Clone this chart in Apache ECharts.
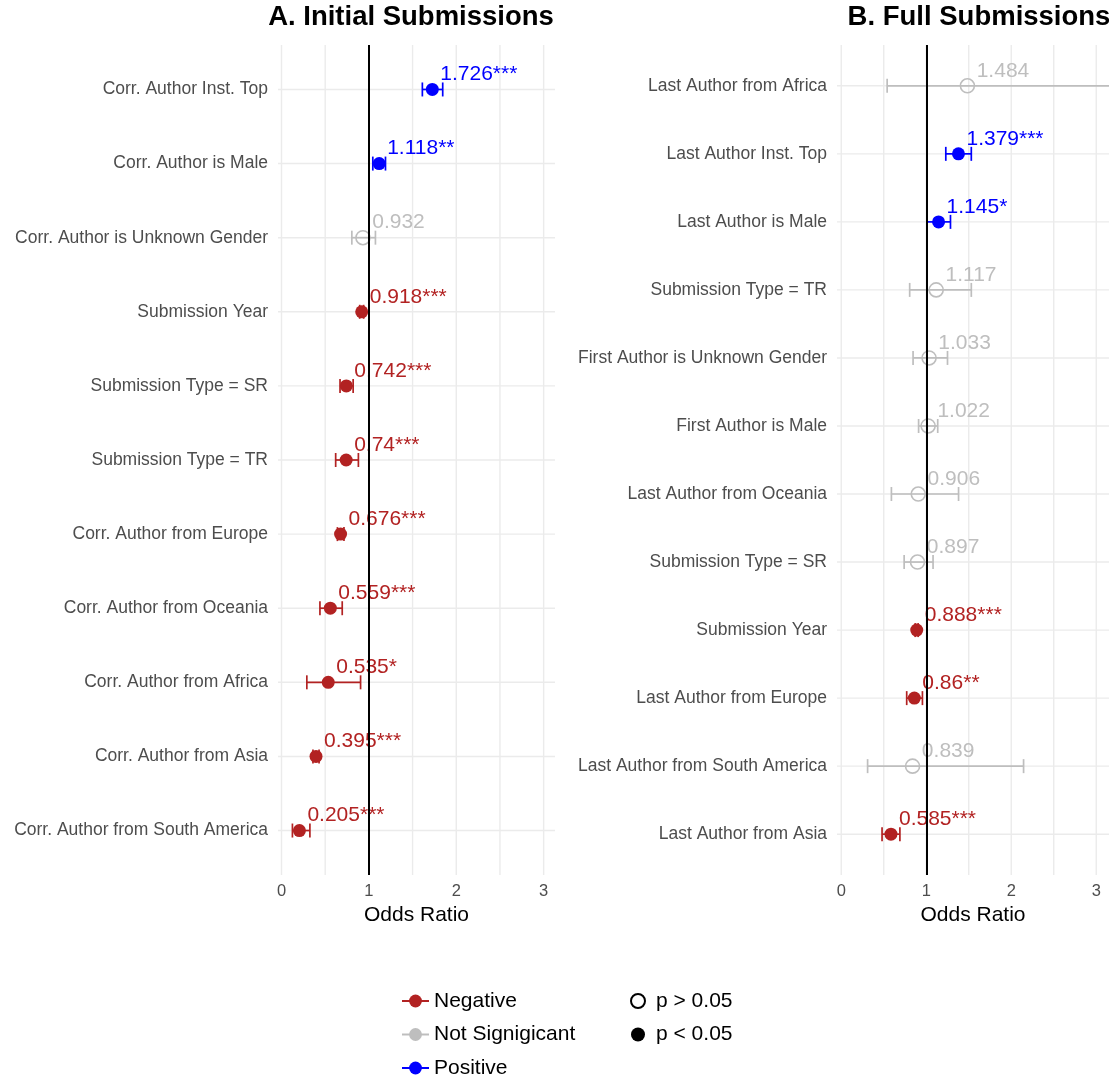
<!DOCTYPE html>
<html><head><meta charset="utf-8">
<script src="https://cdn.jsdelivr.net/npm/echarts@6/dist/echarts.min.js"></script>
<style>html,body{margin:0;padding:0;background:#fff}#c{width:1109px;height:1076px}</style>
</head><body><div id="c"></div>
<script>
// ---- Panel A: Initial Submissions ----
const catsA = ['Corr. Author Inst. Top','Corr. Author is Male','Corr. Author is Unknown Gender','Submission Year','Submission Type = SR','Submission Type = TR','Corr. Author from Europe','Corr. Author from Oceania','Corr. Author from Africa','Corr. Author from Asia','Corr. Author from South America'];
const orA = [1.726,1.118,0.932,0.918,0.742,0.74,0.676,0.559,0.535,0.395,0.205];
const loA = [1.612,1.045,0.805,0.895,0.670,0.620,0.640,0.440,0.290,0.360,0.125];
const hiA = [1.845,1.190,1.075,0.940,0.820,0.880,0.715,0.695,0.905,0.430,0.325];
const starsA = ['***','**','','***','***','***','***','***','*','***','***'];

// ---- Panel B: Full Submissions ----
const catsB = ['Last Author from Africa','Last Author Inst. Top','Last Author is Male','Submission Type = TR','First Author is Unknown Gender','First Author is Male','Last Author from Oceania','Submission Type = SR','Submission Year','Last Author from Europe','Last Author from South America','Last Author from Asia'];
const orB = [1.484,1.379,1.145,1.117,1.033,1.022,0.906,0.897,0.888,0.86,0.839,0.585];
const loB = [0.540,1.230,1.010,0.805,0.845,0.910,0.590,0.740,0.870,0.770,0.310,0.480];
const hiB = [4.200,1.530,1.285,1.530,1.250,1.135,1.380,1.080,0.905,0.955,2.145,0.690];
const starsB = ['','***','*','','','','','','***','**','','***'];

const xTicks = [0,1,2,3];
const xGridLines = [0,0.5,1,1.5,2,2.5,3];
const refLine = 1;
const groupNames = ['Negative','Not Signigicant','Positive'];
const groupColors = ['#b22222','#bebebe','#0000ff'];
const FONT = "'Liberation Sans', Arial, Helvetica, sans-serif";

function groupOf(or, stars){ return stars === '' ? 1 : (or < 1 ? 0 : 2); }

function panelSeries(gi, cats, ors, los, his, stars){
  const series = [];
  series.push({
    type:'custom', xAxisIndex:gi, yAxisIndex:gi, silent:true, z:0,
    data: xGridLines.map(v => [v, 1]),
    renderItem(params, api){
      const cs = params.coordSys;
      const x = api.coord([api.value(0), 1])[0];
      return {type:'line', shape:{x1:x, y1:cs.y, x2:x, y2:cs.y+cs.height}, style:{stroke:'#ebebeb', lineWidth:1.4}};
    }
  });
  series.push({
    type:'custom', xAxisIndex:gi, yAxisIndex:gi, silent:true, z:0,
    data: cats.map((c,i) => [0, i+1]),
    renderItem(params, api){
      const cs = params.coordSys;
      const y = api.coord([0, api.value(1)])[1];
      return {type:'line', shape:{x1:cs.x, y1:y, x2:cs.x+cs.width, y2:y}, style:{stroke:'#ebebeb', lineWidth:1.4}};
    }
  });
  series.push({
    type:'custom', xAxisIndex:gi, yAxisIndex:gi, silent:true, z:2,
    data: cats.map((c,i) => [los[i], his[i], i+1, groupOf(ors[i], stars[i])]),
    encode:{x:[0,1], y:2},
    renderItem(params, api){
      const y = api.coord([0, api.value(2)])[1];
      const x1 = api.coord([api.value(0), 1])[0];
      const x2 = api.coord([api.value(1), 1])[0];
      const col = groupColors[api.value(3)];
      const st = {stroke:col, lineWidth:1.7};
      const h = 7;
      return {type:'group', children:[
        {type:'line', shape:{x1:x1,y1:y,x2:x2,y2:y}, style:st},
        {type:'line', shape:{x1:x1,y1:y-h,x2:x1,y2:y+h}, style:st},
        {type:'line', shape:{x1:x2,y1:y-h,x2:x2,y2:y+h}, style:st}
      ]};
    }
  });
  series.push({
    type:'scatter', xAxisIndex:gi, yAxisIndex:gi, silent:true, z:3,
    data: cats.map((c,i) => {
      const g = groupOf(ors[i], stars[i]);
      const col = groupColors[g];
      const sig = stars[i] !== '';
      return {
        value:[ors[i], i+1],
        symbol:'circle',
        symbolSize: sig ? 13 : 14,
        itemStyle: sig ? {color:col, opacity:1} : {color:'rgba(255,255,255,0)', borderColor:col, borderWidth:1.6, opacity:1},
        label:{show:true, position:'right', distance:1.5, offset:[0,-15],
               formatter: String(ors[i]) + stars[i], color:col, fontSize:21, fontFamily:FONT, opacity:1}
      };
    })
  });
  series.push({
    type:'line', xAxisIndex:gi, yAxisIndex:gi, data:[], silent:true, z:5,
    markLine:{silent:true, symbol:['none','none'], label:{show:false}, animation:false,
      lineStyle:{color:'#000', width:2, type:'solid'}, data:[{xAxis:refLine}]}
  });
  return series;
}

function yAxisFor(gi, cats){
  return {
    type:'value', gridIndex:gi, inverse:true, min:0.4, max:cats.length+0.6,
    axisLine:{show:false}, axisTick:{show:false}, splitLine:{show:false},
    axisLabel:{customValues: cats.map((c,i)=>i+1), formatter: v => cats[Math.round(v)-1] || '',
      color:'#4d4d4d', fontSize:17.5, margin:10, fontFamily:FONT}
  };
}
function xAxisFor(gi, mn, mx){
  return {
    type:'value', gridIndex:gi, min:mn, max:mx,
    axisLine:{show:false}, axisTick:{show:false}, splitLine:{show:false},
    axisLabel:{customValues: xTicks, formatter: v => String(v), color:'#4d4d4d', fontSize:16.5, margin:8, fontFamily:FONT},
    name:'Odds Ratio', nameLocation:'middle', nameGap:30,
    nameTextStyle:{color:'#000', fontSize:21, fontFamily:FONT}
  };
}

const legendSeries = groupNames.map((nm,k) => ({
  name:nm, type:'line', xAxisIndex:0, yAxisIndex:0, data:[], symbol:'circle', symbolSize:13,
  itemStyle:{color:groupColors[k]}, lineStyle:{color:groupColors[k], width:1.6}
}));
const pSeries = [
  {name:'p > 0.05', type:'scatter', xAxisIndex:0, yAxisIndex:0, data:[], itemStyle:{color:'#000', opacity:1}},
  {name:'p < 0.05', type:'scatter', xAxisIndex:0, yAxisIndex:0, data:[], itemStyle:{color:'#000', opacity:1}}
];

const chart = echarts.init(document.getElementById('c'), null, {renderer:'canvas'});
chart.setOption({
  animation:false,
  backgroundColor:'#fff',
  textStyle:{fontFamily:FONT},
  title:[
    {text:'A. Initial Submissions', left:411, textAlign:'center', top:4, padding:0,
     textStyle:{fontSize:27.5, fontWeight:'bold', color:'#000', fontFamily:FONT, lineHeight:27}},
    {text:'B. Full Submissions', left:979, textAlign:'center', top:4, padding:0,
     textStyle:{fontSize:27.5, fontWeight:'bold', color:'#000', fontFamily:FONT, lineHeight:27}}
  ],
  legend:[
    {orient:'vertical', left:401, top:990.5, height:90, padding:0, itemWidth:27, itemHeight:16, itemGap:12.5, selectedMode:false,
     data:groupNames, textStyle:{fontSize:21, color:'#000', lineHeight:21, fontFamily:FONT}},
    {orient:'vertical', left:630, top:990.5, height:90, padding:0, itemWidth:26, itemHeight:14, itemGap:12.5, selectedMode:false,
     data:[{name:'p > 0.05', icon:'emptyCircle'}, {name:'p < 0.05', icon:'circle'}],
     textStyle:{fontSize:21, color:'#000', lineHeight:21, fontFamily:FONT}}
  ],
  grid:[
    {left:278, right:554, top:45, bottom:201, containLabel:false},
    {left:837, right:-10, top:45, bottom:201, containLabel:false}
  ],
  xAxis:[xAxisFor(0,-0.04,3.13), xAxisFor(1,-0.05,3.15)],
  yAxis:[yAxisFor(0,catsA), yAxisFor(1,catsB)],
  series:[].concat(
    panelSeries(0, catsA, orA, loA, hiA, starsA),
    panelSeries(1, catsB, orB, loB, hiB, starsB),
    legendSeries, pSeries)
});
</script></body></html>
